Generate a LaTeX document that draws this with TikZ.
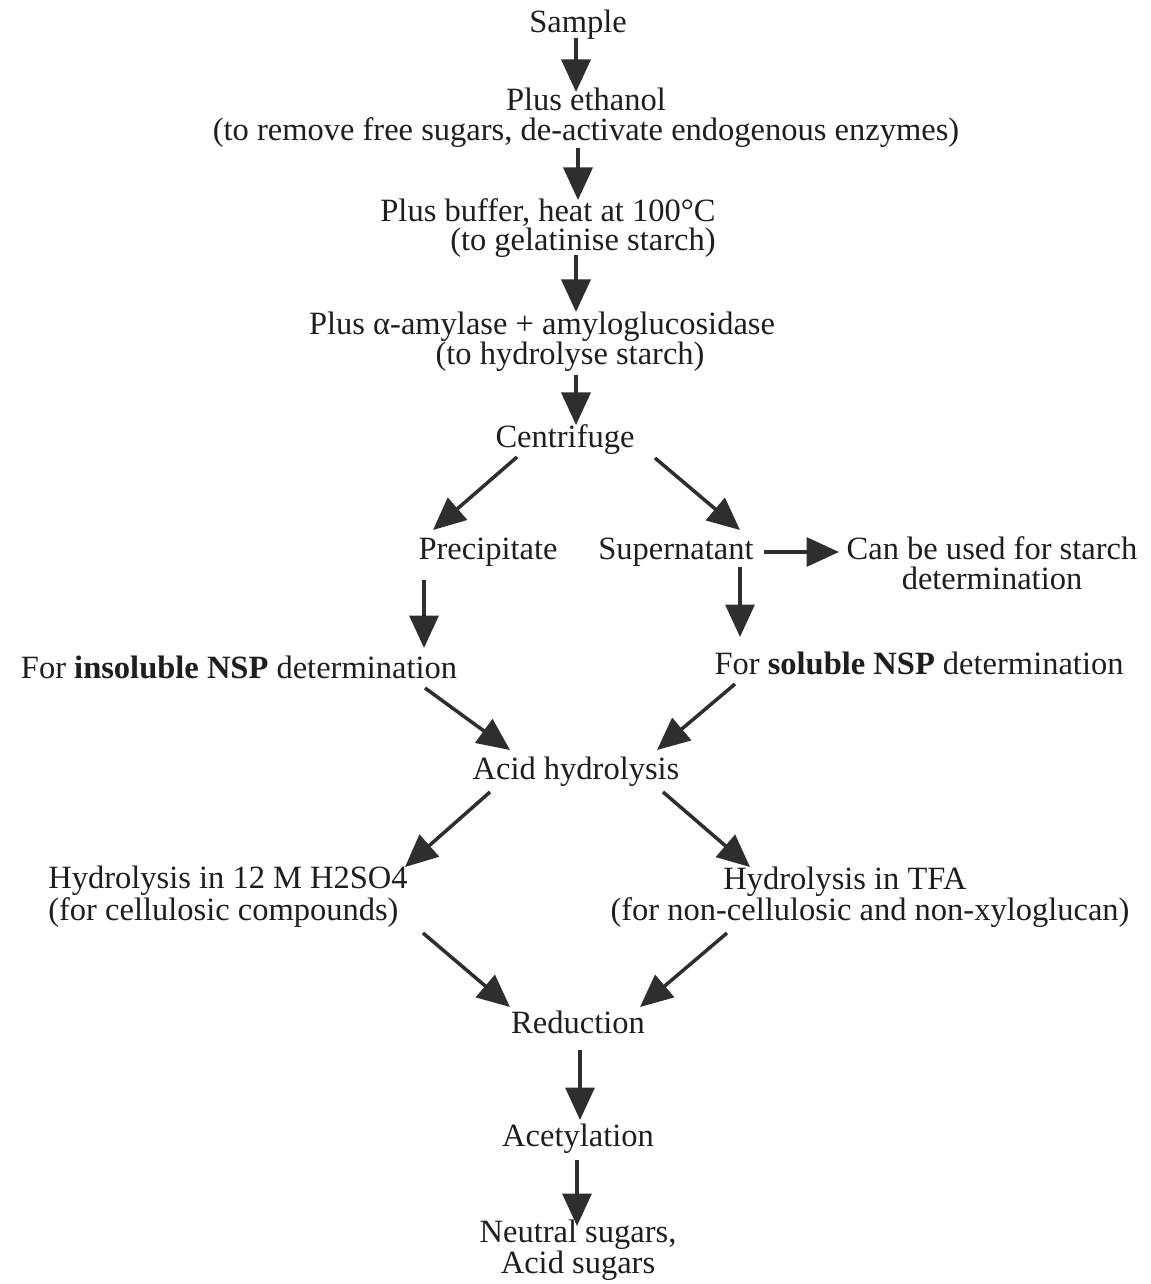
\documentclass[tikz,border=0pt]{standalone}
\usepackage{fontspec}
\setmainfont{Liberation Serif}
\usepackage{xcolor}
\usepackage{tikz}
\usetikzlibrary{arrows.meta,calc}
\definecolor{flowgray}{HTML}{2E2E2E}
\definecolor{inkdark}{HTML}{1E1E1E}

\begin{document}
\begin{tikzpicture}[x=0.02cm,y=-0.02cm,
  stagelabel/.style={inner sep=0pt,text=inkdark,font=\fontsize{18.5}{17}\selectfont},
  flow/.style={flowgray,line width=2pt,-{Triangle[length=18.5pt,width=16.5pt]}}]
  \useasboundingbox (0,0) rectangle (1151,1284);
  \node[stagelabel] (sample) at (578,25) {Sample};
  \node[stagelabel,align=center] (ethanol) at (586,118) {Plus ethanol\\(to remove free sugars, de-activate endogenous enzymes)};
  \node[stagelabel,align=right] (buffer) at (548,228) {Plus buffer, heat at 100°C\\(to gelatinise starch)};
  \node[stagelabel] (amyl) at (542,327) {Plus α-amylase + amyloglucosidase};
  \node[stagelabel] (amylnote) at (570,357) {(to hydrolyse starch)};
  \node[stagelabel] (centr) at (565,440) {Centrifuge};
  \node[stagelabel] (precip) at (488,552) {Precipitate};
  \node[stagelabel] (super) at (676,552) {Supernatant};
  \node[stagelabel,align=center] (starch) at (992,563) {Can be used for starch\\determination};
  \node[stagelabel] (insol) at (239,667) {For \textbf{insoluble NSP} determination};
  \node[stagelabel] (sol) at (919,663) {For \textbf{soluble NSP} determination};
  \node[stagelabel] (acid) at (576,772) {Acid hydrolysis};
  \node[stagelabel,align=left] (sulf) at (228,897) {Hydrolysis in 12 M H2SO4\\(for cellulosic compounds)};
  \node[stagelabel] (tfa) at (845,882) {Hydrolysis in TFA};
  \node[stagelabel] (tfanote) at (870,913) {(for non-cellulosic and non-xyloglucan)};
  \node[stagelabel] (red) at (578,1022) {Reduction};
  \node[stagelabel] (acet) at (578,1139) {Acetylation};
  \node[stagelabel,align=center,font=\fontsize{18.5}{14}\selectfont] (sugars) at (578,1250) {Neutral sugars,\\Acid sugars};

  \draw[flow] ($(sample)+(-2,13)$) -- ($(ethanol)+(-10,-26)$);
  \draw[flow] ($(ethanol)+(-8,30)$) -- ($(buffer)+(30,-28)$);
  \draw[flow] ($(buffer)+(28,27)$) -- ($(amyl)+(34,-15)$);
  \draw[flow] ($(amylnote)+(6,18)$) -- ($(centr)+(11,-15)$);
  \draw[flow] ($(centr)+(-48,17)$) -- ($(precip)+(-55,-22)$);
  \draw[flow] ($(centr)+(90,18)$) -- ($(super)+(64,-22)$);
  \draw[flow] ($(super)+(88,0)$) -- ($(starch)+(-153,-11)$);
  \draw[flow] ($(precip)+(-64,28)$) -- ($(insol)+(185,-19)$);
  \draw[flow] ($(super)+(64,15)$) -- ($(sol)+(-179,-26)$);
  \draw[flow] ($(insol)+(186,21)$) -- ($(acid)+(-66,-22)$);
  \draw[flow] ($(sol)+(-184,21)$) -- ($(acid)+(81,-22)$);
  \draw[flow] ($(acid)+(-86,20)$) -- ($(sulf)+(177,-30)$);
  \draw[flow] ($(acid)+(87,20)$) -- ($(tfa)+(-95,-15)$);
  \draw[flow] ($(sulf)+(195,36)$) -- ($(red)+(-68,-15)$);
  \draw[flow] ($(tfanote)+(-143,20)$) -- ($(red)+(62,-15)$);
  \draw[flow] ($(red)+(2,28)$) -- ($(acet)+(2,-19)$);
  \draw[flow] ($(acet)+(-1,21)$) -- ($(sugars)+(-1,-24)$);
\end{tikzpicture}
\end{document}
